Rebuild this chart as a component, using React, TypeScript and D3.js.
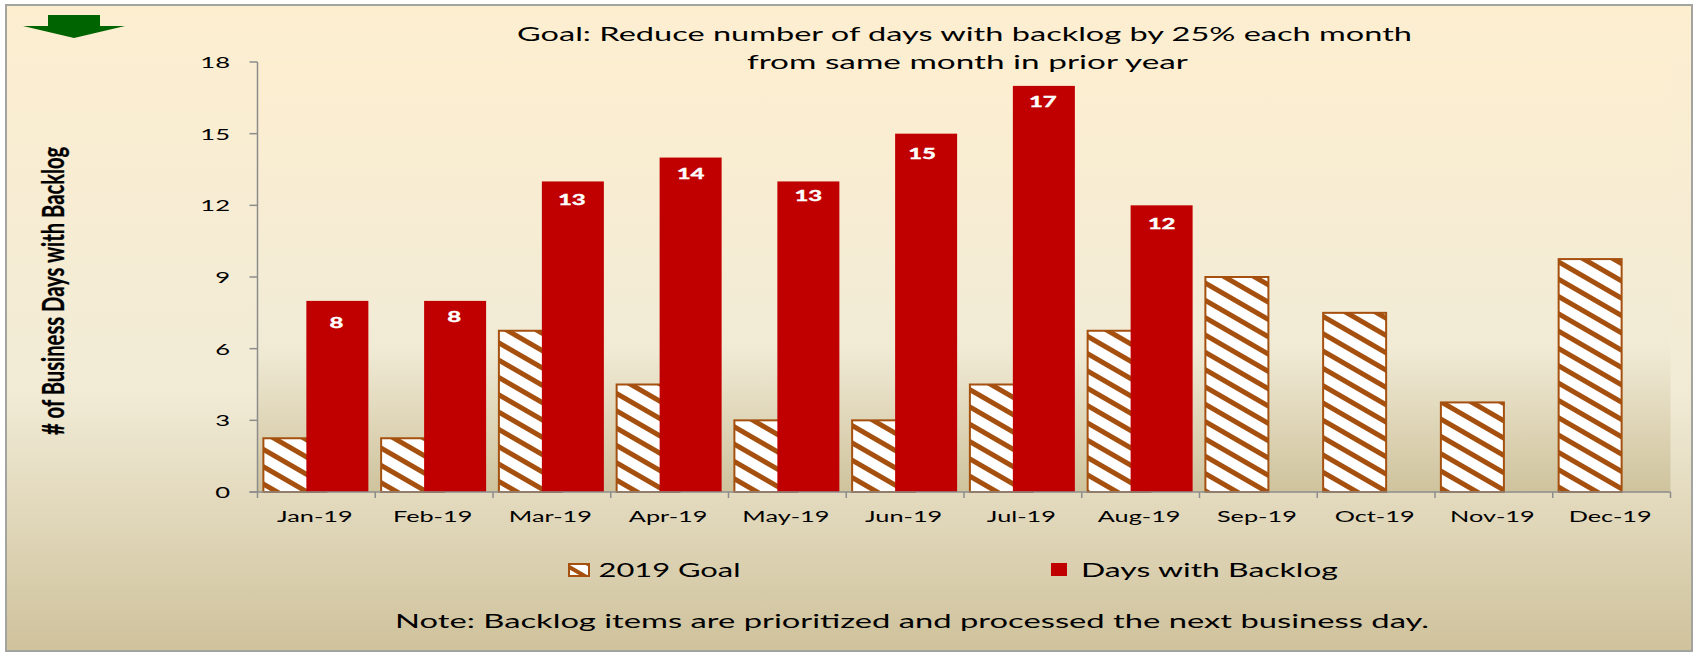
import React, { useLayoutEffect, useRef } from "react";
import * as d3 from "d3";

const categories = ["Jan-19","Feb-19","Mar-19","Apr-19","May-19","Jun-19","Jul-19","Aug-19","Sep-19","Oct-19","Nov-19","Dec-19"];
const goal = [2.25,2.25,6.75,4.5,3,3,4.5,6.75,9,7.5,3.75,9.75];
const backlog: (number|null)[] = [8,8,13,14,13,15,17,12,null,null,null,null];
const yTicks = [0,3,6,9,12,15,18];
const titleLines = ["Goal: Reduce number of days with backlog by 25% each month","from same month in prior year"];
const yTitle = "# of Business Days with Backlog";
const note = "Note: Backlog items are prioritized and processed the next business day.";
const legendLabels = ["2019 Goal","Days with Backlog"];

const labelDy = [27, 21, 24, 21, 20, 25, 21, 24];
const labelDx = [-1, -1, -1, 0, 0, -4, -1, 0];

const W = 1694, H = 652;
const L = 257.5, R = 1670.5, T = 62, B = 492;
const FONT = "Lato, 'Open Sans', sans-serif";

function Stretched(p: { x: number; y: number; sx: number; size: number; anchor?: string; weight?: string; fill?: string; stroke?: string; children: any }) {
  return (
    <text transform={`translate(${p.x},${p.y}) scale(${p.sx},1)`} textAnchor={p.anchor || "middle"} fontFamily={FONT}
      fontSize={p.size} fontWeight={p.weight || "normal"} fill={p.fill || "#000"} stroke={p.stroke || "none"} strokeWidth={p.stroke ? 0.4 : 0}>{p.children}</text>
  );
}
function Fit(p: { x: number; y: number; len: number; size: number; children: any }) {
  return (
    <text x={p.x} y={p.y} textLength={p.len} lengthAdjust="spacingAndGlyphs" fontFamily={FONT} fontSize={p.size} fill="#000">{p.children}</text>
  );
}

export default function App() {
  const x = d3.scaleBand<string>().domain(categories).range([L, R]);
  const y = d3.scaleLinear().domain([0, 18]).range([B, T]);
  const step = x.step();
  const bw = 62;
  const goalX = (c: string) => x(c)! + step * 0.05;
  const redX = (c: string) => x(c)! + step * 0.415;
  const edges = d3.range(13).map(i => L + i * step);
  const yTitleRef = useRef<SVGTextElement>(null);
  useLayoutEffect(() => {
    const el = yTitleRef.current;
    if (!el) return;
    const fit = () => {
      const natural = el.getComputedTextLength();
      el.setAttribute("transform", `translate(64,435) rotate(-90) scale(${288 / natural},1)`);
    };
    fit();
    if (document.fonts && document.fonts.ready) document.fonts.ready.then(fit);
  }, []);
  return (
    <svg width={W} height={H} style={{ position: "absolute", left: 0, top: 0, display: "block" }}>
      <defs>
        <linearGradient id="bg" x1="0" y1="0" x2="0" y2="1">
          <stop offset="0" stopColor="#fdeed0" />
          <stop offset="0.6" stopColor="#f1ebd6" />
          <stop offset="1" stopColor="#cfc29c" />
        </linearGradient>
        <linearGradient id="plotbg" x1="0" y1="0" x2="0" y2="1">
          <stop offset="0" stopColor="#fdeed0" />
          <stop offset="0.66" stopColor="#f1ebd6" />
          <stop offset="1" stopColor="#cfc39d" />
        </linearGradient>
        <pattern id="hatch" width="15" height="15" patternUnits="userSpaceOnUse" patternTransform="rotate(30)">
          <rect width="15" height="15" fill="#fff" />
          <rect width="15" height="5" fill="#a5500f" />
        </pattern>
        <pattern id="hatchLegend" width="12" height="12" patternUnits="userSpaceOnUse" patternTransform="rotate(30 568 564)">
          <rect width="12" height="12" fill="#fff" />
          <rect width="12" height="4" fill="#a5500f" />
        </pattern>
      </defs>
      <rect x={6} y={5} width={1686} height={646} fill="url(#bg)" stroke="#a3a3a0" strokeWidth={2} />
      <rect x={L} y={T} width={R - L} height={B - T} fill="url(#plotbg)" />
      <path d="M48 15H100V26H125L74 38L23 26H48Z" fill="#006400" />
      {categories.map((c, i) => (
        <rect key={c} x={goalX(c)} y={y(goal[i])} width={bw + 1} height={B - y(goal[i])} fill="url(#hatch)" stroke="#a5500f" strokeWidth={2} />
      ))}
      {categories.map((c, i) => backlog[i] == null ? null : (
        <g key={c}>
          <rect x={redX(c)} y={y(backlog[i]!)} width={bw} height={B - y(backlog[i]!)} fill="#c00000" />
          <Stretched x={redX(c) + bw / 2 + labelDx[i]} y={y(backlog[i]!) + labelDy[i]} sx={1.5} size={16} weight="bold" fill="#fff" stroke="#fff">{backlog[i]}</Stretched>
        </g>
      ))}
      <g stroke="#8c8c8c" strokeWidth={1.5} fill="none">
        <line x1={L} x2={L} y1={T} y2={B} />
        <line x1={L - 8} x2={R} y1={B} y2={B} />
        {yTicks.map(t => <line key={t} x1={L - 8} x2={L} y1={y(t)} y2={y(t)} />)}
        {edges.map(e => <line key={e} x1={e} x2={e} y1={B} y2={B + 6} />)}
      </g>
      {yTicks.map(t => (
        <Stretched key={t} x={230} y={y(t) + 6} sx={1.6} size={16} anchor="end">{t}</Stretched>
      ))}
      {categories.map(c => (
        <Stretched key={c} x={x(c)! + step / 2 - 1.5} y={522} sx={1.58} size={16}>{c}</Stretched>
      ))}
      <Fit x={517} y={41} len={895} size={20}>{titleLines[0]}</Fit>
      <Fit x={747} y={69} len={441} size={20}>{titleLines[1]}</Fit>
      <text ref={yTitleRef} transform="translate(64,435) rotate(-90) scale(0.68,1)" fontFamily={FONT} fontWeight="bold" fontSize={31} fill="#000" stroke="#000" strokeWidth={0.3}>{yTitle}</text>
      <rect x={569} y={564} width={20} height={12} fill="url(#hatchLegend)" stroke="#a5500f" strokeWidth={2} />
      <Fit x={598.5} y={577} len={142} size={20}>{legendLabels[0]}</Fit>
      <rect x={1051} y={563} width={16} height={13} fill="#c00000" />
      <Fit x={1081} y={577} len={257} size={20}>{legendLabels[1]}</Fit>
      <Fit x={395} y={628} len={1034} size={20}>{note}</Fit>
    </svg>
  );
}
